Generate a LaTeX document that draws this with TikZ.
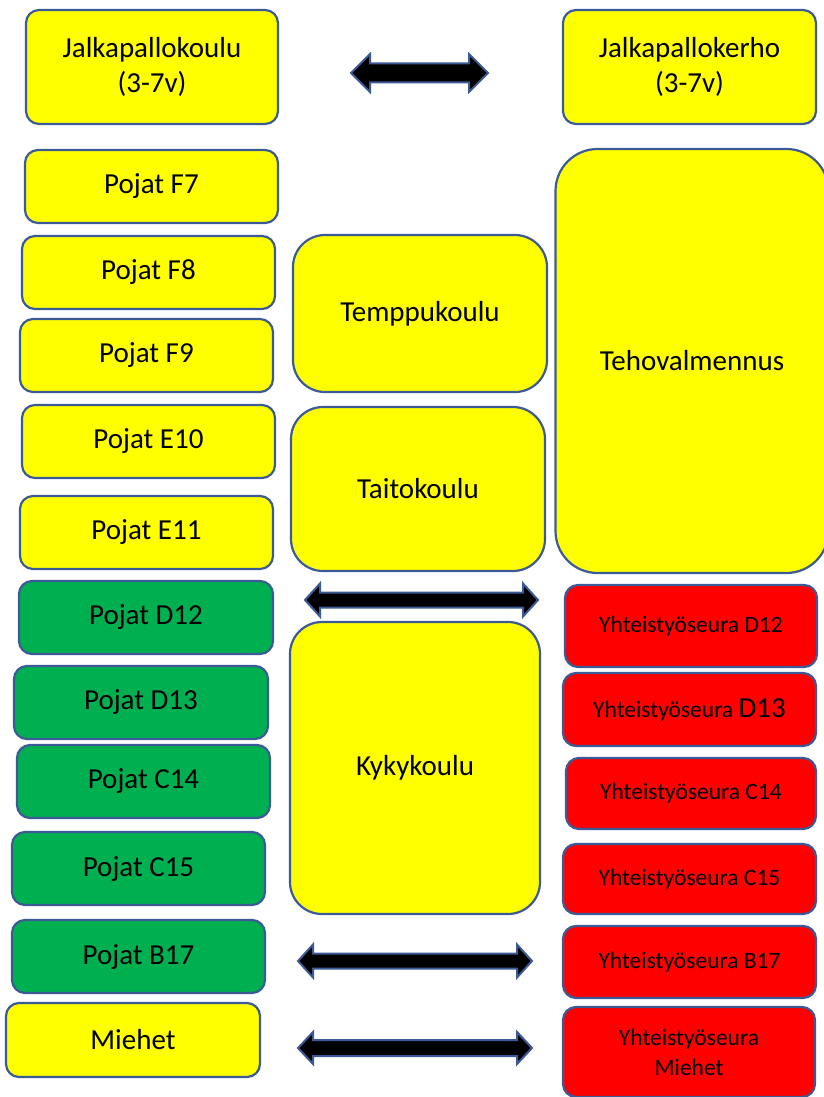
\documentclass[tikz,border=0pt]{standalone}
\usepackage{fontspec}
\setmainfont{Carlito}
\definecolor{bord}{RGB}{59,90,150}
\definecolor{yel}{RGB}{255,255,0}
\definecolor{grn}{RGB}{0,176,80}
\definecolor{rd}{RGB}{255,0,0}
\newcommand\bigtxt{\fontsize{29}{35}\selectfont}
\newcommand\smtxt{\fontsize{23.5}{30}\selectfont}
\newcommand\mkbox[7]{% name, x1, y1, x2, y2, style, text
  \node[#6, minimum width={#4-#2}, minimum height={#5-#3}] (#1) at ({(#2+#4)/2},{(#3+#5)/2}) {#7};}
\newcommand\dblarr[7]{% name, x1, x2, yc, h, s, L
  \coordinate (#1-l) at (#2,#4);
  \coordinate (#1-r) at (#3,#4);
  \draw[arrowshape] (#1-l) -- ++(#7,-#5) -- ++(0,{#5-#6}) -- ({#3-#7},{#4-#6}) -- ++(0,{#6-#5}) -- (#1-r)
    -- ++(-#7,#5) -- ++(0,{#6-#5}) -- ({#2+#7},{#4+#6}) -- ++(0,{#5-#6}) -- cycle;}
\begin{document}
\begin{tikzpicture}[x=1pt,y=-1pt,
  base/.style={draw=bord, line width=2.2pt, inner sep=0pt, align=center, text=black, font=\bigtxt},
  ybox/.style={base, fill=yel, rounded corners=13pt},
  gbox/.style={base, fill=grn, rounded corners=13pt},
  rbox/.style={base, fill=rd, rounded corners=13pt, font=\smtxt},
  bigbox/.style={base, fill=yel, rounded corners=32pt},
  arrowshape/.style={draw=bord, fill=black, line width=2pt, line join=miter}]
\useasboundingbox (0,0) rectangle (823,1097);
% left column
\mkbox{jk}{26}{10}{278}{124}{ybox}{Jalkapallokoulu\\(3-7v)}
\mkbox{f7}{25}{150}{278}{223}{ybox}{Pojat F7}
\mkbox{f8}{22}{236}{275}{309}{ybox}{Pojat F8}
\mkbox{f9}{20}{319}{273}{392}{ybox}{Pojat F9}
\mkbox{e10}{22}{405}{275}{478}{ybox}{Pojat E10}
\mkbox{e11}{20}{496}{273}{569}{ybox}{Pojat E11}
\mkbox{d12}{19}{581}{273}{654}{gbox}{Pojat D12}
\mkbox{d13}{14}{666}{268}{739}{gbox}{Pojat D13}
\mkbox{c14}{17}{745}{270}{818}{gbox}{Pojat C14}
\mkbox{c15}{12}{832}{265}{905}{gbox}{Pojat C15}
\mkbox{b17}{12}{920}{265}{993}{gbox}{Pojat B17}
\mkbox{mi}{6}{1003}{260}{1077}{ybox}{Miehet}
% middle column
\mkbox{tem}{293}{235}{547}{392}{bigbox}{Temppukoulu}
\mkbox{tai}{291}{407}{545}{571}{bigbox}{Taitokoulu}
\mkbox{kyk}{290}{622}{540}{914}{bigbox}{Kykykoulu}
% right column
\mkbox{jkh}{563}{10}{816}{124}{ybox}{Jalkapallokerho\\(3-7v)}
\node[base, fill=yel, rounded corners=42pt, minimum width=273, minimum height=424] (teho) at (692,361) {Tehovalmennus};
\mkbox{yd12}{565}{585}{817}{667}{rbox}{Yhteistyöseura D12}
\mkbox{yd13}{563}{673}{816}{746}{rbox}{Yhteistyöseura {\bigtxt D13}}
\mkbox{yc14}{566}{758}{816}{829}{rbox}{Yhteistyöseura C14}
\mkbox{yc15}{563}{844}{816}{914}{rbox}{Yhteistyöseura C15}
\mkbox{yb17}{563}{926}{816}{998}{rbox}{Yhteistyöseura B17}
\mkbox{ymi}{563}{1007}{815}{1097}{rbox}{Yhteistyöseura\\Miehet}
% arrows
\dblarr{a1}{351}{488}{73}{19}{9.5}{19}
\dblarr{a2}{305}{538}{600}{16.5}{7.5}{15}
\dblarr{a3}{298}{532}{961}{16.5}{7.5}{15}
\dblarr{a4}{298}{532}{1048}{16}{8}{15}
\end{tikzpicture}
\end{document}
